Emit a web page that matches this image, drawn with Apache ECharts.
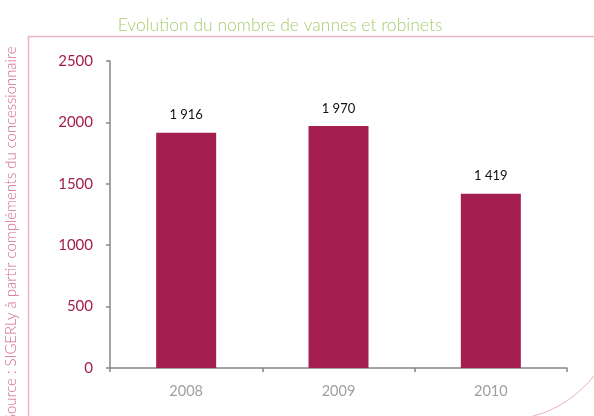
<!DOCTYPE html>
<html>
<head>
<meta charset="utf-8">
<script src="https://cdn.jsdelivr.net/npm/echarts@6/dist/echarts.min.js"></script>
<style>
  html, body { margin: 0; padding: 0; background: #fff; }
  #chart { width: 594px; height: 416px; }
</style>
</head>
<body>
<div id="chart"></div>
<script>
const years = ['2008', '2009', '2010'];
const vannes = [1916, 1970, 1419];
const yTicks = [0, 500, 1000, 1500, 2000, 2500];

const titleText = 'Evolution du nombre de vannes et robinets';
const sourceText = 'Source : SIGERLy à partir compléments du concessionnaire';

let chartDom = document.getElementById('chart');
let myChart = echarts.init(chartDom);
let option;

// "1 916" style labels
const fmt = (v) => String(v).replace(/\B(?=(\d{3})+(?!\d))/g, ' ');

option = {
  animation: false,
  title: {
    text: titleText,
    left: 275,
    textAlign: 'center',
    top: 11,
    textStyle: {
      fontFamily: 'Lato',
      fontWeight: 300,
      fontSize: 17.5,
      color: '#a9cc6e',
    },
  },
  grid: {
    left: 110,
    right: 27,
    top: 61,
    bottom: 48,
  },
  xAxis: {
    type: 'category',
    data: years,
    axisLine: { lineStyle: { color: '#878787', width: 1.5 } },
    axisTick: { show: true, length: 4, lineStyle: { color: '#878787', width: 1.5 } },
    axisLabel: {
      margin: 16,
      fontFamily: 'Lato',
      fontSize: 14.5,
      color: '#a0a0a0',
    },
  },
  yAxis: {
    type: 'value',
    min: yTicks[0],
    max: yTicks[yTicks.length - 1],
    interval: 500,
    splitLine: { show: false },
    axisLine: { show: true, lineStyle: { color: '#878787', width: 1.5 } },
    axisTick: { show: true, length: 4, lineStyle: { color: '#878787', width: 1.5 } },
    axisLabel: {
      margin: 17,
      fontFamily: 'Lato',
      fontSize: 15,
      color: '#a31d50',
      formatter: (v) => String(v),
    },
  },
  series: [
    {
      name: 'vannes et robinets',
      type: 'bar',
      data: vannes,
      barWidth: 60,
      itemStyle: { color: '#a51e50' },
      label: {
        show: true,
        position: 'top',
        distance: 11,
        fontFamily: 'Lato',
        fontSize: 13,
        color: '#111',
        formatter: (p) => fmt(p.value),
      },
    },
  ],
  graphic: [
    {
      type: 'polyline',
      shape: { points: [[594, 36.5], [28.5, 36.5], [28.5, 416]] },
      style: { stroke: '#eeb4c4', lineWidth: 1.5, fill: null },
    },
    {
      type: 'arc',
      shape: { cx: 500, cy: 300, r: 121, startAngle: 0.3, endAngle: 1.5 },
      style: { stroke: '#eab0be', lineWidth: 1, fill: null },
    },
    {
      type: 'text',
      x: 4,
      y: 422,
      rotation: Math.PI / 2,
      style: {
        text: sourceText,
        font: '300 14.9px Lato',
        fill: '#d26888',
        textVerticalAlign: 'top',
      },
    },
  ],
};

option && myChart.setOption(option);
</script>
</body>
</html>
